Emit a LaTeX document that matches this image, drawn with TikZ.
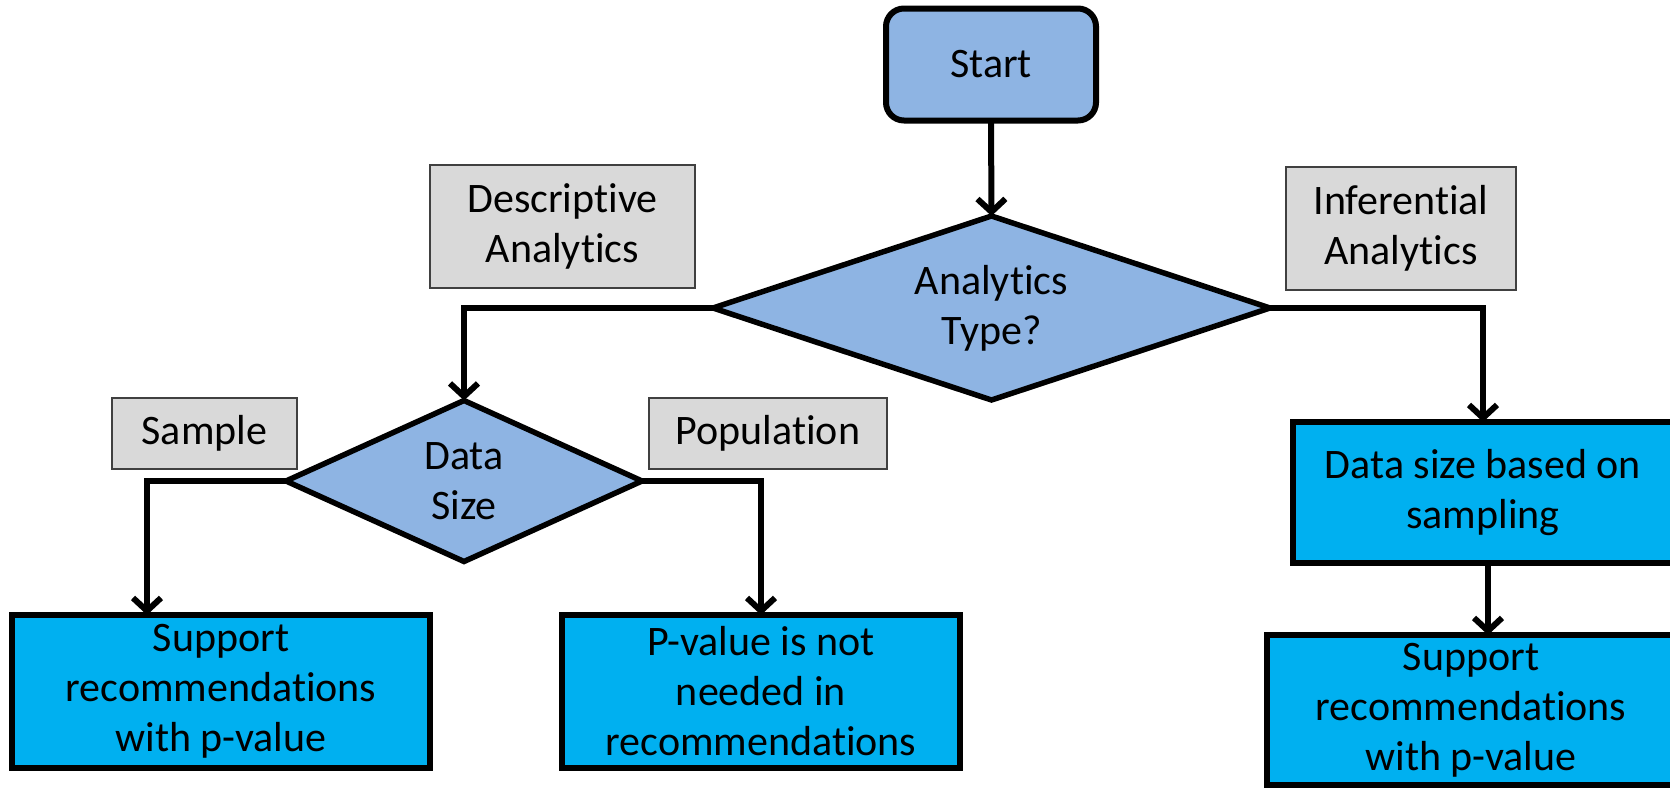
\documentclass[tikz,border=0pt]{standalone}
\usepackage{fontspec}
\setmainfont{Carlito}[RawFeature={-liga}]
\usetikzlibrary{shapes.geometric,arrows.meta}
\definecolor{lblue}{HTML}{8EB4E3}
\definecolor{cblue}{HTML}{00B0F0}
\definecolor{lgray}{HTML}{D9D9D9}
\begin{document}
\begin{tikzpicture}[x=1pt,y=-1pt,
 every node/.style={font=\fontsize{42}{50}\selectfont, align=center, inner sep=0pt, outer sep=0pt},
 startbox/.style={draw, line width=6pt, fill=lblue, rounded corners=18pt, anchor=north west},
 decision/.style={diamond, draw, line width=5.5pt, fill=lblue},
 labelbox/.style={draw=black!75, line width=1.5pt, fill=lgray, anchor=north west},
 actionbox/.style={draw, line width=6pt, fill=cblue, anchor=north west},
 flow/.style={line width=6pt, -{Straight Barb[length=13pt,width=28pt]}}
]
\useasboundingbox (0,0) rectangle (1670,787);

% nodes
\node[startbox, minimum width=210pt, minimum height=112pt] (start) at (886,8.5) {Start};
\node[decision, minimum width=557pt, minimum height=184pt, aspect=3] (at) at (991.5,308) {Analytics\\Type?};
\node[labelbox, minimum width=265pt, minimum height=123pt] (desc) at (430,165) {Descriptive\\Analytics};
\node[labelbox, minimum width=230pt, minimum height=123pt] (inf) at (1286,167) {Inferential\\Analytics};
\node[decision, minimum width=356pt, minimum height=161pt, aspect=2.2] (ds) at (464,481) {Data\\Size};
\node[labelbox, minimum width=185pt, minimum height=71pt] (samp) at (112,398) {Sample};
\node[labelbox, minimum width=238pt, minimum height=71pt] (pop) at (649,398) {Population};
\node[actionbox, minimum width=418pt, minimum height=153pt] (lb) at (12,615) {Support\\recommendations\\with p-value};
\node[actionbox, minimum width=398pt, minimum height=153pt] (mb) at (562,615) {P-value is not\\needed in\\recommendations};
\node[actionbox, minimum width=380pt, minimum height=141pt] (r1) at (1293,422) {Data size based on\\sampling};
\node[actionbox, minimum width=408pt, minimum height=150pt] (r2) at (1267,635) {Support\\recommendations\\with p-value};

% free ends
\coordinate (lbin) at (147,615);
\coordinate (r2in) at (1488,635);

% connectors
\draw[flow] (start.south) -- (at.north);
\draw[flow] (at.west) -| (ds.north);
\draw[flow] (at.east) -| (r1.north);
\draw[flow] (ds.west) -| (lbin);
\draw[flow] (ds.east) -| (mb.north);
\draw[flow] (r1.south -| r2in) -- (r2in);
\end{tikzpicture}
\end{document}
